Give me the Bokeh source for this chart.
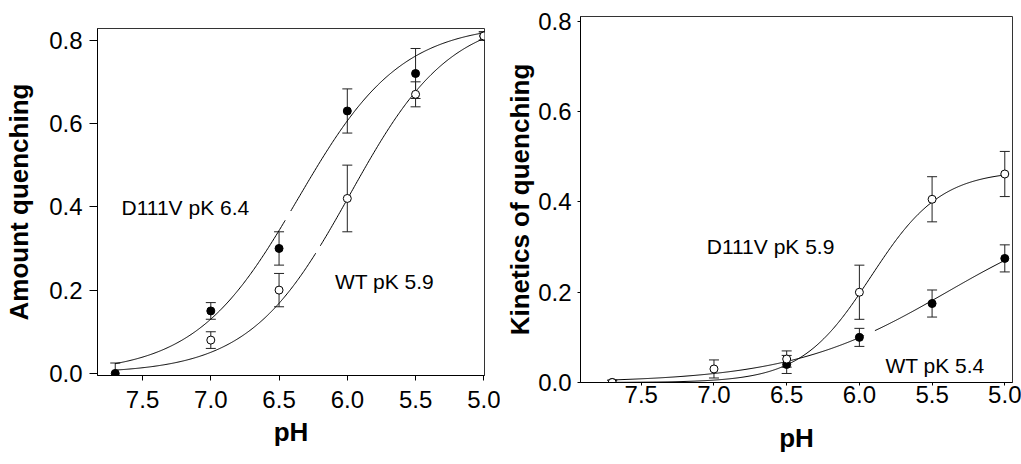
import numpy as np
from bokeh.plotting import figure
from bokeh.models import Range1d, FixedTicker, PrintfTickFormatter, ColumnDataSource, Whisker, TeeHead, Label
from bokeh.layouts import row
from bokeh.embed import file_html
from bokeh.resources import INLINE

FONT = "Liberation Sans"

# ---------------- data ----------------
x_ticks = [7.5, 7.0, 6.5, 6.0, 5.5, 5.0]
y_ticks = [0.0, 0.2, 0.4, 0.6, 0.8]

# Left panel: amount of quenching
amt_d111v_ph = [7.7, 7.0, 6.5, 6.0, 5.5, 5.0]
amt_d111v = [0.0, 0.15, 0.30, 0.63, 0.72, 0.81]
amt_d111v_err = [0.025, 0.02, 0.04, 0.053, 0.06, 0.01]
amt_wt_ph = [7.0, 6.5, 6.0, 5.5, 5.0]
amt_wt = [0.08, 0.20, 0.42, 0.67, 0.81]
amt_wt_err = [0.02, 0.04, 0.08, 0.03, 0.01]
# fitted titration curves: [top, pK, Hill n]
amt_d111v_fit = [0.84, 6.36, 1.15]
amt_wt_fit = [0.86, 5.98, 1.18]
amt_d111v_gap = [6.45, 6.42]
amt_wt_gap = [6.23, 6.20]

# Right panel: kinetics of quenching
kin_d111v_ph = [7.7, 7.0, 6.5, 6.0, 5.5, 5.0]
kin_d111v = [0.0, 0.03, 0.052, 0.20, 0.406, 0.462]
kin_d111v_err = [0.005, 0.02, 0.018, 0.06, 0.05, 0.05]
kin_wt_ph = [7.7, 6.5, 6.0, 5.5, 5.0]
kin_wt = [0.0, 0.04, 0.10, 0.175, 0.275]
kin_wt_err = [0.005, 0.02, 0.02, 0.03, 0.03]
kin_d111v_fit = [0.47, 5.92, 1.8]
kin_wt_fit = [0.40, 5.4, 0.8]
kin_wt_gap = [5.966, 5.897]

curve_span = [7.7, 5.0]


def curve(params, gap=None):
    top, pk, n = params
    xs = np.linspace(curve_span[0], curve_span[1], 400)
    ys = top / (1.0 + 10 ** (n * (xs - pk)))
    if gap is not None:
        ys = np.where((xs <= gap[0]) & (xs >= gap[1]), np.nan, ys)
    return xs, ys


def style(p, xlab_standoff, ylab_standoff, x_tick_out, x_lab_standoff, y_tick_out, y_lab_standoff):
    p.xgrid.visible = False
    p.ygrid.visible = False
    p.outline_line_color = "#333333"
    p.outline_line_width = 1
    p.background_fill_color = "white"
    p.border_fill_color = "white"
    for ax in (p.xaxis[0], p.yaxis[0]):
        ax.axis_line_color = "black"
        ax.major_tick_line_color = "black"
        ax.minor_tick_line_color = None
        ax.major_tick_in = 0
        ax.major_label_text_font = FONT
        ax.major_label_text_font_size = "24px"
        ax.major_label_text_color = "black"
        ax.axis_label_text_font = FONT
        ax.axis_label_text_font_size = "26px"
        ax.axis_label_text_font_style = "bold"
        ax.axis_label_text_color = "black"
    p.xaxis[0].ticker = FixedTicker(ticks=x_ticks)
    p.yaxis[0].ticker = FixedTicker(ticks=y_ticks)
    p.xaxis[0].formatter = PrintfTickFormatter(format="%.1f")
    p.yaxis[0].formatter = PrintfTickFormatter(format="%.1f")
    p.xaxis[0].major_tick_out = x_tick_out
    p.xaxis[0].major_label_standoff = x_lab_standoff
    p.xaxis[0].axis_label_standoff = xlab_standoff
    p.yaxis[0].major_tick_out = y_tick_out
    p.yaxis[0].major_label_standoff = y_lab_standoff
    p.yaxis[0].axis_label_standoff = ylab_standoff


def points(p, xs, ys, errs, filled):
    src = ColumnDataSource(dict(
        x=xs, y=ys,
        upper=[a + b for a, b in zip(ys, errs)],
        lower=[a - b for a, b in zip(ys, errs)],
    ))
    w = Whisker(source=src, base="x", upper="upper", lower="lower",
                line_color="#222222", line_width=1,
                upper_head=TeeHead(size=10, line_color="#222222", line_width=1),
                lower_head=TeeHead(size=10, line_color="#222222", line_width=1))
    p.add_layout(w)
    p.scatter("x", "y", source=src, marker="circle", size=8,
              fill_color="black" if filled else "white", line_color="black", line_width=1)


def label(p, text, x, y):
    p.add_layout(Label(x=x, y=y, text=text, text_font=FONT, text_font_size="21px",
                       text_color="black", text_align="left", text_baseline="alphabetic"))


# ---------------- left panel ----------------
p1 = figure(width=500, height=445, output_backend="svg", toolbar_location=None,
            x_range=Range1d(7.83, 4.995), y_range=Range1d(-0.005, 0.828),
            min_border_left=97, min_border_right=16, min_border_top=16, min_border_bottom=82,
            margin=(12, 0, 0, 0),
            x_axis_label="pH", y_axis_label="Amount quenching")
style(p1, xlab_standoff=6, ylab_standoff=12, x_tick_out=5, x_lab_standoff=10,
      y_tick_out=8, y_lab_standoff=7)
for params, gap in ((amt_d111v_fit, amt_d111v_gap), (amt_wt_fit, amt_wt_gap)):
    cx, cy = curve(params, gap)
    p1.line(cx, cy, line_color="black", line_width=1)
points(p1, amt_d111v_ph, amt_d111v, amt_d111v_err, True)
points(p1, amt_wt_ph, amt_wt, amt_wt_err, False)
label(p1, "D111V pK 6.4", 7.654, 0.398)
label(p1, "WT pK 5.9", 6.091, 0.2215)

# ---------------- right panel ----------------
p2 = figure(width=521, height=464, output_backend="svg", toolbar_location=None,
            x_range=Range1d(7.918, 4.947), y_range=Range1d(0.0, 0.811),
            min_border_left=80, min_border_right=9, min_border_top=16, min_border_bottom=82,
            x_axis_label="pH", y_axis_label="Kinetics of quenching")
style(p2, xlab_standoff=17, ylab_standoff=0, x_tick_out=3, x_lab_standoff=0,
      y_tick_out=3, y_lab_standoff=6)
for params, gap in ((kin_d111v_fit, None), (kin_wt_fit, kin_wt_gap)):
    cx, cy = curve(params, gap)
    p2.line(cx, cy, line_color="black", line_width=1)
points(p2, kin_wt_ph, kin_wt, kin_wt_err, True)
points(p2, kin_d111v_ph, kin_d111v, kin_d111v_err, False)
label(p2, "D111V pK 5.9", 7.05, 0.3007)
label(p2, "WT pK 5.4", 5.821, 0.037)

layout = row(p1, p2)
open("out.html", "w").write(file_html(layout, INLINE))
